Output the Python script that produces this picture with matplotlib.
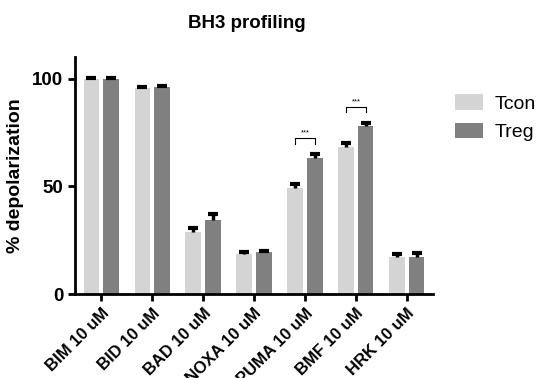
import numpy as np
import matplotlib
matplotlib.use("Agg")
import matplotlib.pyplot as plt

plt.rcParams['font.family'] = ['Liberation Sans', 'DejaVu Sans']

peptides = ['BIM 10 uM', 'BID 10 uM', 'BAD 10 uM', 'NOXA 10 uM',
            'PUMA 10 uM', 'BMF 10 uM', 'HRK 10 uM']
tcon_mean = [99.8, 95.8, 28.8, 18.8, 49.2, 68.1, 17.3]
tcon_err = [0.5, 0.5, 1.9, 0.6, 2.0, 2.0, 1.4]
treg_mean = [99.8, 96.0, 34.5, 19.4, 63.3, 78.1, 17.3]
treg_err = [0.5, 0.5, 2.6, 0.8, 1.5, 1.2, 2.0]
# significance brackets: (group index, label)
sig = [(4, '***'), (5, '***')]

x = np.arange(len(peptides))
w = 0.31
off = 0.19

fig = plt.figure(figsize=(5.37, 3.78), dpi=100)
ax = fig.add_axes([0.140, 0.222, 0.666, 0.627])

ax.bar(x - off, tcon_mean, w, color='#d4d4d4', label='Tcon')
ax.bar(x + off, treg_mean, w, color='#808080', label='Treg')

# upper-only error bars, Prism style
for xs, m, e in [(x - off, tcon_mean, tcon_err), (x + off, treg_mean, treg_err)]:
    m = np.array(m)
    e = np.array(e)
    ax.vlines(xs, m, m + e, color='black', lw=2.5, zorder=3)
    ax.plot(xs, m + e, ls='none', marker='_', ms=7, mew=3, color='black', zorder=3)

for i, lab in sig:
    top = max(tcon_mean[i] + tcon_err[i], treg_mean[i] + treg_err[i])
    y0 = top + 5
    y1 = y0 + 2.5
    ax.plot([i - off, i - off, i + off, i + off], [y0, y1, y1, y0],
            color='black', lw=0.8)
    ax.text(i, y1 + 0.8, lab, ha='center', va='bottom', fontsize=5.5)

ax.set_xlim(-0.51, len(x) - 0.49)
ax.set_ylim(0, 110)
ax.set_yticks([0, 50, 100])
ax.set_xticks(x)
ax.set_xticklabels(peptides, rotation=45, ha='right', rotation_mode='anchor',
                   fontweight='bold', fontsize=12)
for t in ax.get_yticklabels():
    t.set_fontweight('bold')
    t.set_fontsize(13.5)
ax.set_ylabel('% depolarization', fontweight='bold', fontsize=14, labelpad=6)
ax.spines['top'].set_visible(False)
ax.spines['right'].set_visible(False)
ax.spines['left'].set_linewidth(2)
ax.spines['bottom'].set_linewidth(2)
ax.tick_params(width=2, length=5, color='black')

fig.text(0.46, 0.938, 'BH3 profiling', ha='center', va='center',
         fontweight='bold', fontsize=13.5)

ax.legend(loc='upper left', bbox_to_anchor=(1.04, 0.875), frameon=False,
          fontsize=14, handlelength=1.45, handleheight=0.85, labelspacing=0.5,
          handletextpad=0.6, borderaxespad=0)

fig.savefig('out.png', dpi=100)
